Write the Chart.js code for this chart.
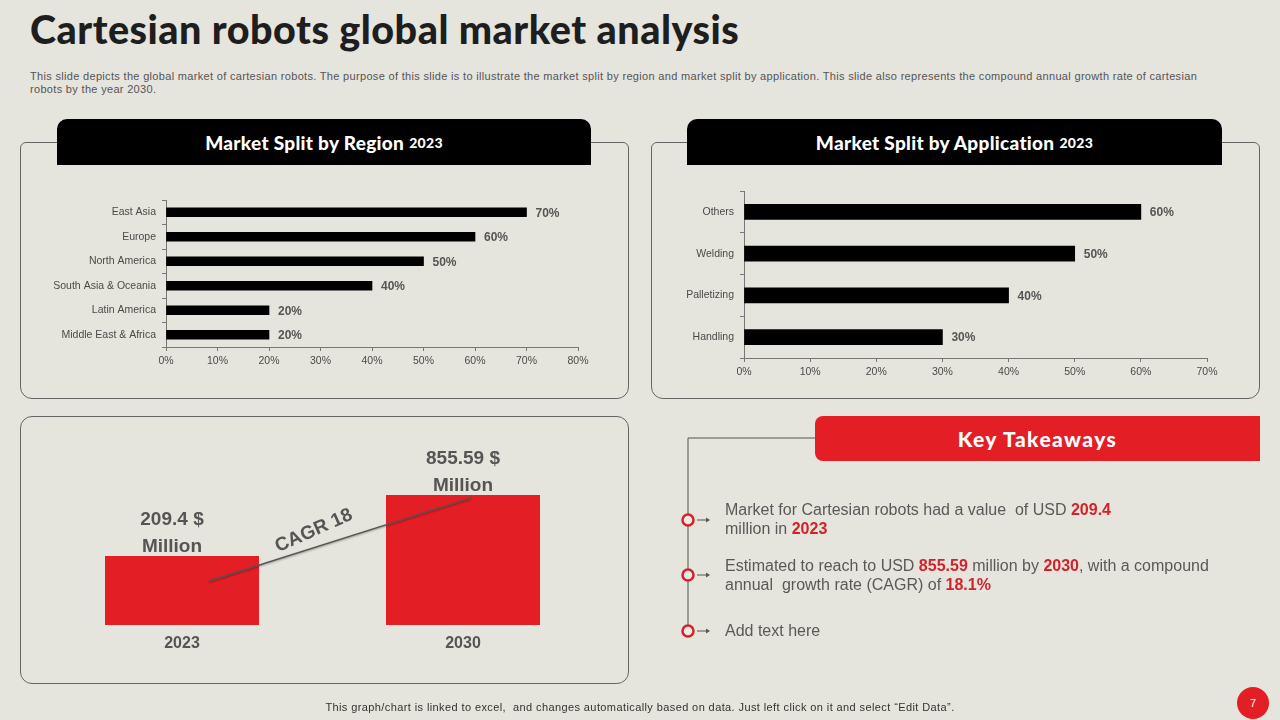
<!DOCTYPE html>
<html>
<head>
<meta charset="utf-8">
<script src="https://cdn.jsdelivr.net/npm/chart.js@4.4.0/dist/chart.umd.min.js"></script>
<style>
  body { margin: 0; width: 1280px; height: 720px; background: #e5e4dd; position: relative; overflow: hidden; font-family: 'Liberation Sans', Arial, sans-serif; }
  .abs { position: absolute; }
  #titulo { left: 30px; top: 5px; font-family: 'Lato', 'Noto Sans', sans-serif; font-weight: 900; font-size: 39.5px; color: #1e1e1e; white-space: nowrap; letter-spacing: 0.5px; }
  #descripcion { left: 30px; top: 70px; font-size: 11px; line-height: 13px; color: #555; white-space: nowrap; letter-spacing: 0.32px; }
  .panel { border: 1px solid #666; box-sizing: border-box; }
  .cabecera { background: #000; color: #fff; border-radius: 10px 10px 0 0; font-family: 'Lato', 'Noto Sans', sans-serif; font-weight: 900; font-size: 19px; letter-spacing: 0.3px; display: flex; align-items: center; justify-content: center; }
  .cabecera small { font-size: 14px; margin-left: 5px; font-weight: 900; }
  #clave { left: 815px; top: 416px; width: 445px; height: 45px; background: #e31e24; border-radius: 8px 0 0 8px; color: #fff; font-family: 'Lato', 'Noto Sans', sans-serif; font-weight: 900; font-size: 21px; letter-spacing: 1.4px; display: flex; align-items: center; justify-content: center; }
  .item { left: 725px; font-size: 16px; line-height: 19px; color: #595959; white-space: nowrap; }
  .item b { color: #d4222b; }
  #pie { left: 0; width: 1280px; top: 701px; text-align: center; font-size: 11px; color: #333; letter-spacing: 0.4px; }
  #pagina { left: 1237px; top: 687px; width: 32px; height: 32px; border-radius: 50%; background: #e31e24; color: #fff; font-size: 11px; display: flex; align-items: center; justify-content: center; }
</style>
</head>
<body>
<div id="titulo" class="abs">Cartesian robots global market analysis</div>
<div id="descripcion" class="abs">This slide depicts the global market of cartesian robots. The purpose of this slide is to illustrate the market split by region and market split by application. This slide also represents the compound annual growth rate of cartesian<br>robots by the year 2030.</div>

<div class="abs panel" style="left:20px;top:142px;width:609px;height:257px;border-radius:6px 6px 12px 12px;"></div>
<div class="abs cabecera" style="left:57px;top:119px;width:534px;height:46px;">Market Split by Region<small>2023</small></div>
<canvas id="graficoRegion" class="abs" width="608" height="200" style="left:20px;top:180px;"></canvas>

<div class="abs panel" style="left:651px;top:142px;width:609px;height:257px;border-radius:6px 6px 12px 12px;"></div>
<div class="abs cabecera" style="left:687px;top:119px;width:535px;height:46px;">Market Split by Application<small>2023</small></div>
<canvas id="graficoAplicacion" class="abs" width="608" height="215" style="left:651px;top:175px;"></canvas>

<div class="abs panel" style="left:20px;top:416px;width:609px;height:268px;border-radius:12px;"></div>
<canvas id="graficoMercado" class="abs" width="608" height="267" style="left:20px;top:416px;"></canvas>

<svg class="abs" style="left:0;top:0;" width="1280" height="720">
  <polyline points="815,438 688,438 688,631" fill="none" stroke="#555" stroke-width="1"/>
  <g id="marcas"></g>
</svg>
<div id="clave" class="abs">Key Takeaways</div>
<div class="abs item" style="top:500px;">Market for Cartesian robots had a value&nbsp; of USD <b>209.4</b><br>million in <b>2023</b></div>
<div class="abs item" style="top:556px;">Estimated to reach to USD <b>855.59</b> million by <b>2030</b>, with a compound<br>annual&nbsp; growth rate (CAGR) of <b>18.1%</b></div>
<div class="abs item" style="top:621px;">Add text here</div>

<div id="pie" class="abs">This graph/chart is linked to excel,&nbsp; and changes automatically based on data. Just left click on it and select “Edit Data”.</div>
<div id="pagina" class="abs">7</div>

<script>
const regiones = ['East Asia', 'Europe', 'North America', 'South Asia & Oceania', 'Latin America', 'Middle East & Africa'];
const valoresRegion = [70, 60, 50, 40, 20, 20];
const ticksRegion = [0, 10, 20, 30, 40, 50, 60, 70, 80];

const aplicaciones = ['Others', 'Welding', 'Palletizing', 'Handling'];
const valoresAplicacion = [60, 50, 40, 30];
const ticksAplicacion = [0, 10, 20, 30, 40, 50, 60, 70];

const anios = ['2023', '2030'];
const valoresMercado = [209.4, 855.59];
const etiquetaCagr = 'CAGR 18';

const marcasY = [520, 575, 631];

// circulos y flechas de la lista
const g = document.getElementById('marcas');
marcasY.forEach(function(y) {
  g.innerHTML += `<circle cx="688" cy="${y}" r="5.5" fill="#eeeae6" stroke="#d4222b" stroke-width="2.5"/>` +
    `<line x1="697" y1="${y}" x2="706" y2="${y}" stroke="#555" stroke-width="1"/>` +
    `<polygon points="706,${y - 2.5} 710,${y} 706,${y + 2.5}" fill="#555"/>`;
});

// etiqueta de porcentaje al final de cada barra
const etiquetasBarras = {
  id: 'etiquetasBarras',
  afterDatasetsDraw(chart) {
    const ctx = chart.ctx;
    const meta = chart.getDatasetMeta(0);
    ctx.save();
    ctx.font = 'bold 12px "Liberation Sans", Arial';
    ctx.fillStyle = '#555';
    ctx.textAlign = 'left';
    ctx.textBaseline = 'middle';
    meta.data.forEach(function(bar, i) {
      ctx.fillText(chart.data.datasets[0].data[i] + '%', bar.x + 9, bar.y + 1);
    });
    ctx.restore();
  }
};

function configuracionHorizontal(etiquetas, valores, ticks, grosor, anchoEje) {
  return {
    type: 'bar',
    data: {
      labels: etiquetas,
      datasets: [{ data: valores, backgroundColor: '#000', barThickness: grosor }]
    },
    options: {
      indexAxis: 'y',
      responsive: false,
      animation: false,
      layout: { padding: { left: 0, right: 50, top: 20, bottom: 13 } },
      plugins: { legend: { display: false }, tooltip: { enabled: false } },
      scales: {
        x: {
          min: ticks[0],
          max: ticks[ticks.length - 1],
          afterBuildTicks: (scale) => { scale.ticks = ticks.map(v => ({ value: v })); },
          afterFit: (scale) => { scale.height = 20; },
          grid: { drawOnChartArea: false, drawTicks: true, tickLength: 4, color: '#777' },
          border: { color: '#777' },
          ticks: { padding: 4, color: '#4a4a4a', font: { size: 10.5, family: '"Liberation Sans", Arial' }, callback: v => v + '%' }
        },
        y: {
          afterFit: (scale) => { scale.width = anchoEje; },
          grid: { drawOnChartArea: false, drawTicks: true, tickLength: 4, color: '#777', offset: true },
          border: { color: '#777' },
          ticks: { padding: 6, color: '#4a4a4a', font: { size: 10.5, family: '"Liberation Sans", Arial' } }
        }
      }
    },
    plugins: [etiquetasBarras]
  };
}

const configRegion = configuracionHorizontal(regiones, valoresRegion, ticksRegion, 9, 146);
new Chart(document.getElementById('graficoRegion'), configRegion);

const configAplicacion = configuracionHorizontal(aplicaciones, valoresAplicacion, ticksAplicacion, 15, 93);
configAplicacion.options.layout.padding = { left: 0, right: 52, top: 16, bottom: 12 };
new Chart(document.getElementById('graficoAplicacion'), configAplicacion);

// etiquetas de valor y linea CAGR en el grafico de mercado
const etiquetasMercado = {
  id: 'etiquetasMercado',
  afterDatasetsDraw(chart) {
    const ctx = chart.ctx;
    const barras = chart.getDatasetMeta(0).data;
    ctx.save();
    ctx.font = 'bold 19px "Liberation Sans", Arial';
    ctx.fillStyle = '#555';
    ctx.textAlign = 'center';
    ctx.textBaseline = 'middle';
    barras.forEach(function(bar, i) {
      const desplaza = i === 0 ? -10 : 0;
      ctx.fillText(valoresMercado[i] + ' $', bar.x + desplaza, bar.y - 36);
      ctx.fillText('Million', bar.x + desplaza, bar.y - 9);
    });

    const b0 = barras[0], b1 = barras[1];
    const x0 = b0.x + 27, y0 = b0.y + 25;
    const x1 = b1.x + 8, y1 = b1.y + 3;
    ctx.strokeStyle = '#555';
    ctx.lineWidth = 1.5;
    ctx.shadowColor = 'rgba(0,0,0,0.35)';
    ctx.shadowBlur = 2;
    ctx.shadowOffsetY = 1;
    ctx.beginPath();
    ctx.moveTo(x0, y0);
    ctx.lineTo(x1, y1);
    ctx.stroke();
    ctx.shadowColor = 'transparent';

    const tx = x0 + (x1 - x0) * 0.4;
    const ty = y0 + (y1 - y0) * 0.4 - 17;
    ctx.translate(tx, ty);
    ctx.rotate(-24 * Math.PI / 180);
    ctx.fillText(etiquetaCagr, 0, 0);
    ctx.restore();
  }
};

new Chart(document.getElementById('graficoMercado'), {
  type: 'bar',
  data: {
    labels: anios,
    datasets: [{ data: valoresMercado, backgroundColor: '#e31e24', barPercentage: 1, categoryPercentage: 0.548 }]
  },
  options: {
    responsive: false,
    animation: false,
    layout: { padding: { left: 21.5, right: 24.5, top: 39, bottom: 0 } },
    plugins: { legend: { display: false }, tooltip: { enabled: false } },
    scales: {
      x: {
        afterFit: (scale) => { scale.height = 58; },
        grid: { display: false, drawTicks: false },
        border: { display: false },
        ticks: { padding: 9, color: '#555', font: { size: 16, weight: 'bold', family: '"Liberation Sans", Arial' } }
      },
      y: {
        type: 'logarithmic',
        display: false,
        bounds: 'data',
        min: 42.7,
        max: 2146
      }
    }
  },
  plugins: [etiquetasMercado]
});
</script>
</body>
</html>
